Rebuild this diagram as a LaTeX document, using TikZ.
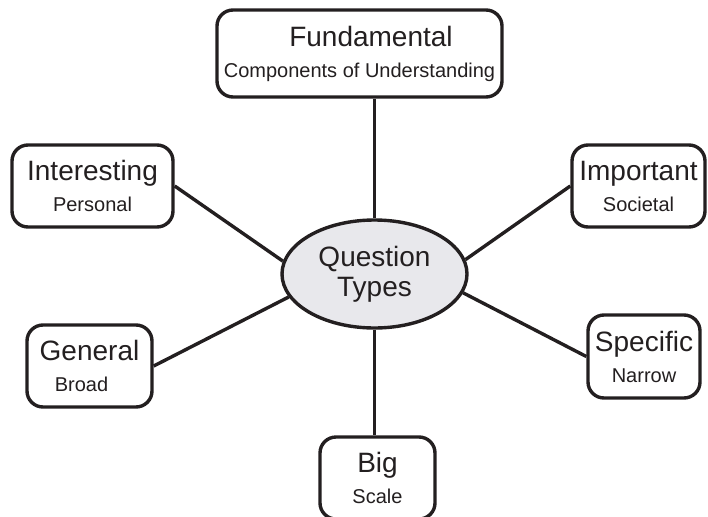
\documentclass[tikz,border=0pt]{standalone}
\usepackage{fontspec}
\setmainfont{Liberation Sans}
\usepackage{tikz}
\usetikzlibrary{shapes}
\definecolor{ink}{HTML}{231F20}
\definecolor{bubble}{RGB}{232,232,236}
\newcommand{\qsub}[1]{{\fontsize{20}{31}\selectfont #1}}

\begin{document}
\begin{tikzpicture}[x=1pt,y=-1pt,color=ink,line width=3.4pt,
qbox/.style={draw,rounded corners=16pt,inner sep=0pt,align=center,fill=white,
  font=\fontsize{28}{31}\selectfont},
qhub/.style={draw,ellipse,inner sep=0pt,align=center,fill=bubble,
  minimum width=185pt,minimum height=108pt,font=\fontsize{28}{30}\selectfont}
]
\useasboundingbox (0,0) rectangle (708,516);
% hub
\node[qhub] (qt) at (374.5,274) {Question\\Types};
% the six kinds of question
\node[qbox,minimum width=285pt,minimum height=87pt] (fund) at (359.5,53.5)
  {\hspace*{23pt}Fundamental\\\qsub{Components of Understanding}};
\node[qbox,minimum width=161pt,minimum height=82pt] (inter) at (92.5,186)
  {Interesting\\\qsub{Personal}};
\node[qbox,minimum width=133pt,minimum height=82pt] (impo) at (638.5,186)
  {Important\\\qsub{Societal}};
\node[qbox,minimum width=125pt,minimum height=82pt] (gen) at (89.5,366)
  {General\\\qsub{Broad}\hspace*{16pt}};
\node[qbox,minimum width=112pt,minimum height=83pt] (spec) at (644,356.5)
  {Specific\\\qsub{Narrow}};
\node[qbox,minimum width=115pt,minimum height=82pt] (big) at (377.5,478)
  {Big\\\qsub{Scale}};
% spokes
\draw (qt.north) -- (qt.north |- fund.south);
\draw (qt.south) -- (qt.south |- big.north);
\draw (inter.east) -- (qt.172);
\draw (impo.west) -- (qt.9);
\draw (gen.east) -- (qt.195);
\draw (spec.west) -- (qt.-12);
\end{tikzpicture}
\end{document}
